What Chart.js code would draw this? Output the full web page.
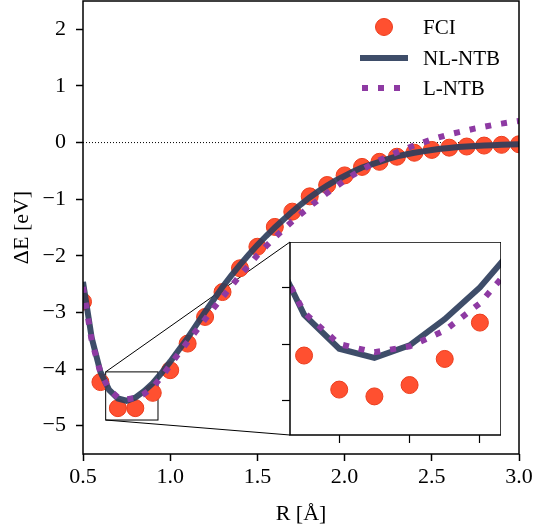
<!DOCTYPE html>
<html>
<head>
<meta charset="utf-8">
<script src="https://cdn.jsdelivr.net/npm/chart.js@4.4.0/dist/chart.umd.min.js"></script>
<style>
  html, body { margin: 0; padding: 0; background: #fff; }
  #wrap { position: relative; width: 536px; height: 529px; }
  #main { position: absolute; left: 0; top: 0; }
  #inset { position: absolute; left: 280px; top: 242px; }
</style>
</head>
<body>
<div id="wrap">
  <canvas id="main" width="536" height="529"></canvas>
  <canvas id="inset" width="221" height="203"></canvas>
</div>
<script>
// --- data ---
// FCI reference (0.1 Å grid)
const fciR = [0.5, 0.6, 0.7, 0.8, 0.9, 1.0, 1.1, 1.2, 1.3, 1.4, 1.5, 1.6, 1.7,
              1.8, 1.9, 2.0, 2.1, 2.2, 2.3, 2.4, 2.5, 2.6, 2.7, 2.8, 2.9, 3.0];
const fciE = [-2.81, -4.23, -4.69, -4.69, -4.42, -4.02, -3.55, -3.08, -2.64, -2.22, -1.84, -1.49, -1.22,
              -0.95, -0.75, -0.58, -0.43, -0.34, -0.25, -0.18, -0.13, -0.09, -0.07, -0.053, -0.04, -0.03];

// FCI points shown in the zoomed inset (finer grid)
const fciInsetR = [0.65, 0.70, 0.75, 0.80, 0.85, 0.90];
const fciInsetE = [-4.55, -4.70, -4.73, -4.68, -4.565, -4.405];

// model curves (0.05 Å grid)
const modelR = [0.50, 0.55, 0.60, 0.65, 0.70, 0.75, 0.80, 0.85, 0.90, 0.95,
                1.00, 1.05, 1.10, 1.15, 1.20, 1.25, 1.30, 1.35, 1.40, 1.45,
                1.50, 1.55, 1.60, 1.65, 1.70, 1.75, 1.80, 1.85, 1.90, 1.95,
                2.00, 2.05, 2.10, 2.15, 2.20, 2.25, 2.30, 2.35, 2.40, 2.45,
                2.50, 2.55, 2.60, 2.65, 2.70, 2.75, 2.80, 2.85, 2.90, 2.95, 3.00];
const nlE = [-2.46, -3.45, -4.05, -4.37, -4.52, -4.56, -4.505, -4.39, -4.25, -4.07,
             -3.87, -3.66, -3.45, -3.22, -2.99, -2.77, -2.55, -2.35, -2.16, -1.98,
             -1.81, -1.65, -1.50, -1.36, -1.22, -1.09, -0.97, -0.86, -0.76, -0.67,
             -0.59, -0.51, -0.44, -0.39, -0.34, -0.29, -0.245, -0.21, -0.18, -0.155,
             -0.13, -0.11, -0.095, -0.08, -0.07, -0.06, -0.053, -0.047, -0.04, -0.035, -0.03];
const lE = [-2.55, -3.50, -4.06, -4.36, -4.50, -4.535, -4.51, -4.44, -4.32, -4.14,
            -3.93, -3.72, -3.52, -3.32, -3.12, -2.92, -2.73, -2.54, -2.35, -2.17,
            -1.99, -1.83, -1.68, -1.53, -1.39, -1.26, -1.13, -1.01, -0.89, -0.78,
            -0.67, -0.57, -0.48, -0.39, -0.31, -0.24, -0.17, -0.11, -0.05, 0.00,
            0.055, 0.10, 0.145, 0.18, 0.215, 0.25, 0.28, 0.31, 0.335, 0.36, 0.38];

// axes
const xTicks = [0.5, 1.0, 1.5, 2.0, 2.5, 3.0];
const yTicks = [-5, -4, -3, -2, -1, 0, 1, 2];
const xRange = [0.5, 3.0];
const yRange = [-5.5, 2.5];
const insetXRange = [0.63, 0.93];
const insetYRange = [-4.9, -4.05];
const insetXTicks = [0.7, 0.8, 0.9];
const insetYTicks = [-4.75, -4.5, -4.25];

const toXY = (xs, ys) => xs.map((x, i) => ({ x: x, y: ys[i] }));

const FCI_COLOR = '#ff5030';
const NL_COLOR = 'rgba(46, 62, 92, 0.92)';
const L_COLOR = '#8e3aa3';

Chart.defaults.font.family = '"Liberation Serif", "Times New Roman", serif';
Chart.defaults.font.size = 22;
Chart.defaults.color = '#000';

// no extra room for half tick labels
const noPad = s => { s.paddingLeft = 0; s.paddingRight = 0; s.paddingTop = 0; s.paddingBottom = 0; };

// black frame around plot area
const framePlugin = {
    id: 'frame',
    afterDraw(chart) {
        const { ctx, chartArea: a } = chart;
        ctx.save();
        ctx.strokeStyle = '#000';
        ctx.lineWidth = 1.5;
        ctx.strokeRect(a.left, a.top, a.right - a.left, a.bottom - a.top);
        ctx.restore();
    }
};

function makeDatasets(fx, fy) {
    return [
        { label: 'L-NTB', data: toXY(modelR, lE), showLine: true, borderColor: L_COLOR, borderWidth: 6,
          borderDash: [6, 10], borderCapStyle: 'butt', pointRadius: 0, tension: 0, order: 1 },
        { label: 'NL-NTB', data: toXY(modelR, nlE), showLine: true, borderColor: NL_COLOR, borderWidth: 6,
          pointRadius: 0, tension: 0, order: 2 },
        { label: 'FCI', data: toXY(fx, fy), showLine: false, pointRadius: 8.5,
          pointBackgroundColor: FCI_COLOR, pointBorderColor: '#ec3d1d', pointBorderWidth: 1, order: 3 }
    ];
}

// ---------- inset ----------
const insetChart = new Chart(document.getElementById('inset'), {
    type: 'scatter',
    data: { datasets: makeDatasets(fciInsetR, fciInsetE) },
    options: {
        responsive: false, animation: false, devicePixelRatio: 1,
        layout: { padding: 0, autoPadding: false },
        plugins: { legend: { display: false }, tooltip: { enabled: false } },
        scales: {
            x: {
                type: 'linear', min: insetXRange[0], max: insetXRange[1],
                afterBuildTicks: s => { s.ticks = insetXTicks.map(v => ({ value: v })); },
                afterFit: s => { s.height = 10; noPad(s); },
                ticks: { display: false },
                border: { display: false },
                grid: { drawOnChartArea: false, tickLength: 8, tickColor: '#000', tickWidth: 1.2 }
            },
            y: {
                type: 'linear', min: insetYRange[0], max: insetYRange[1],
                afterBuildTicks: s => { s.ticks = insetYTicks.map(v => ({ value: v })); },
                afterFit: s => { s.width = 10; noPad(s); },
                ticks: { display: false },
                border: { display: false },
                grid: { drawOnChartArea: false, tickLength: 8, tickColor: '#000', tickWidth: 1.2 }
            }
        }
    },
    plugins: [{
        id: 'whiteBg',
        beforeDatasetsDraw(chart) {
            const { ctx, chartArea: a } = chart;
            ctx.save();
            ctx.fillStyle = '#fff';
            ctx.fillRect(a.left, a.top, a.right - a.left, a.bottom - a.top);
            ctx.restore();
        }
    }, framePlugin]
});

// ---------- main ----------
const insetLeft = 280, insetTop = 242;   // canvas offset on the page

const insetMarkPlugin = {
    id: 'insetMark',
    beforeDatasetsDraw(chart) {
        const { ctx, scales: { x, y } } = chart;
        const bx0 = x.getPixelForValue(insetXRange[0]);
        const bx1 = x.getPixelForValue(insetXRange[1]);
        const by0 = y.getPixelForValue(insetYRange[1]);
        const by1 = y.getPixelForValue(insetYRange[0]);
        const ia = insetChart.chartArea;
        ctx.save();
        ctx.strokeStyle = '#000';
        ctx.lineWidth = 1;
        ctx.strokeRect(bx0, by0, bx1 - bx0, by1 - by0);
        ctx.beginPath();
        ctx.moveTo(bx0, by0);
        ctx.lineTo(insetLeft + ia.left, insetTop + ia.top);
        ctx.moveTo(bx0, by1);
        ctx.lineTo(insetLeft + ia.left, insetTop + ia.bottom);
        ctx.stroke();
        ctx.restore();
    }
};

const legendPlugin = {
    id: 'customLegend',
    afterDraw(chart) {
        const { ctx } = chart;
        const textX = 423;
        ctx.save();
        ctx.font = '21px "Liberation Serif"';
        ctx.fillStyle = '#000';
        ctx.textBaseline = 'middle';
        // FCI
        ctx.beginPath();
        ctx.arc(384, 27, 8.5, 0, Math.PI * 2);
        ctx.fillStyle = FCI_COLOR;
        ctx.fill();
        ctx.strokeStyle = '#ec3d1d';
        ctx.lineWidth = 1;
        ctx.stroke();
        ctx.fillStyle = '#000';
        ctx.fillText('FCI', textX, 28);
        // NL-NTB
        ctx.beginPath();
        ctx.strokeStyle = NL_COLOR;
        ctx.lineWidth = 6;
        ctx.moveTo(360, 58);
        ctx.lineTo(408, 58);
        ctx.stroke();
        ctx.fillText('NL-NTB', textX, 59);
        // L-NTB
        ctx.beginPath();
        ctx.strokeStyle = L_COLOR;
        ctx.setLineDash([6, 10]);
        ctx.moveTo(362, 88);
        ctx.lineTo(408, 88);
        ctx.stroke();
        ctx.setLineDash([]);
        ctx.fillText('L-NTB', textX, 89);
        ctx.restore();
    }
};

const mainDatasets = makeDatasets(fciR, fciE);
mainDatasets.push({
    label: 'zero', data: [{ x: xRange[0], y: 0 }, { x: xRange[1], y: 0 }], showLine: true,
    borderColor: '#000', borderWidth: 1, borderDash: [1, 2], pointRadius: 0, order: 4
});

new Chart(document.getElementById('main'), {
    type: 'scatter',
    data: { datasets: mainDatasets },
    options: {
        responsive: false, animation: false, devicePixelRatio: 1,
        layout: { padding: { top: 1, right: 17, left: 0, bottom: 0 }, autoPadding: false },
        plugins: { legend: { display: false }, tooltip: { enabled: false } },
        scales: {
            x: {
                type: 'linear', min: xRange[0], max: xRange[1],
                afterBuildTicks: s => { s.ticks = xTicks.map(v => ({ value: v })); },
                afterFit: s => { s.height = 75; noPad(s); },
                ticks: { padding: 3, callback: v => v.toFixed(1) },
                border: { display: false },
                grid: { drawOnChartArea: false, tickLength: 7, tickColor: '#000', tickWidth: 1.5 },
                title: { display: true, text: 'R [Å]', padding: { top: 0, bottom: 2 } }
            },
            y: {
                type: 'linear', min: yRange[0], max: yRange[1],
                afterBuildTicks: s => { s.ticks = yTicks.map(v => ({ value: v })); },
                afterFit: s => { s.width = 83; noPad(s); },
                ticks: { padding: 10, callback: v => (v < 0 ? '\u2212' + Math.abs(v) : String(v)) },
                border: { display: false },
                grid: { drawOnChartArea: false, tickLength: 7, tickColor: '#000', tickWidth: 1.5 },
                title: { display: true, text: 'ΔE [eV]', padding: { top: 9, bottom: 0 } }
            }
        }
    },
    plugins: [insetMarkPlugin, framePlugin, legendPlugin]
});
</script>
</body>
</html>
